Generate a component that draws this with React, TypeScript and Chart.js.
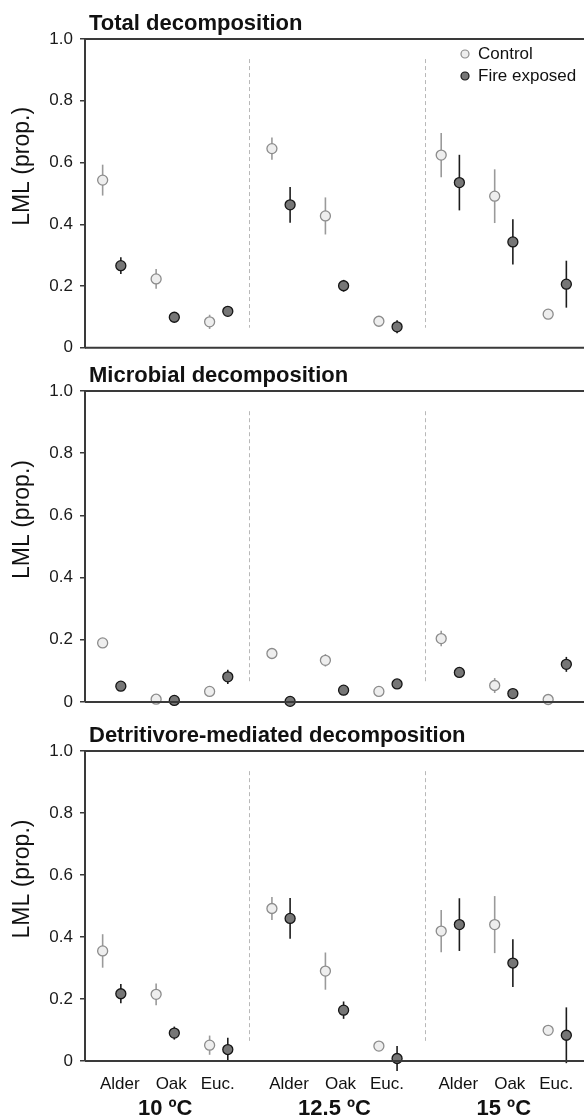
import React, { useEffect, useRef } from "react";
import { Chart, registerables } from "chart.js";

Chart.register(...registerables);

// ---------- data ----------
const temperatures = ["10 ºC", "12.5 ºC", "15 ºC"];
const species = ["Alder", "Oak", "Euc."];
const treatments = ["Control", "Fire exposed"];
const panelTitles = ["Total decomposition", "Microbial decomposition", "Detritivore-mediated decomposition"];
const yTicks = [0, 0.2, 0.4, 0.6, 0.8, 1.0];
const yTickLabels = ["0", "0.2", "0.4", "0.6", "0.8", "1.0"];

// order: Alder10, Oak10, Euc10, Alder12.5, Oak12.5, Euc12.5, Alder15, Oak15, Euc15
const totalControl = [0.543, 0.223, 0.084, 0.645, 0.427, 0.086, 0.624, 0.491, 0.109];
const totalControlErr = [0.05, 0.032, 0.023, 0.036, 0.06, 0.01, 0.072, 0.087, 0.008];
const totalFire = [0.266, 0.099, 0.118, 0.463, 0.201, 0.068, 0.535, 0.343, 0.206];
const totalFireErr = [0.027, 0.01, 0.015, 0.058, 0.019, 0.021, 0.09, 0.073, 0.076];

const microbialControl = [0.19, 0.009, 0.034, 0.156, 0.134, 0.034, 0.204, 0.053, 0.008];
const microbialControlErr = [0.01, 0.005, 0.005, 0.008, 0.02, 0.006, 0.025, 0.024, 0.004];
const microbialFire = [0.051, 0.005, 0.081, 0.002, 0.038, 0.058, 0.095, 0.027, 0.121];
const microbialFireErr = [0.006, 0.003, 0.023, 0.003, 0.005, 0.01, 0.008, 0.005, 0.024];

const detritivoreControl = [0.355, 0.215, 0.051, 0.492, 0.29, 0.048, 0.419, 0.44, 0.099];
const detritivoreControlErr = [0.054, 0.035, 0.031, 0.037, 0.06, 0.01, 0.068, 0.092, 0.01];
const detritivoreFire = [0.217, 0.09, 0.037, 0.46, 0.164, 0.008, 0.44, 0.316, 0.083];
const detritivoreFireErr = [0.031, 0.021, 0.038, 0.066, 0.028, 0.04, 0.085, 0.077, 0.09];

const panelSeries = [
  [totalControl, totalControlErr, totalFire, totalFireErr],
  [microbialControl, microbialControlErr, microbialFire, microbialFireErr],
  [detritivoreControl, detritivoreControlErr, detritivoreFire, detritivoreFireErr],
];

// ---------- layout / style ----------
const FONT = '"Liberation Sans", Arial, Helvetica, sans-serif';
const W = 584;
const PANEL_TOPS = [0, 365, 720];
const PANEL_HEIGHTS = [365, 355, 397];
const PAD_TOP = [39, 26, 31];
const PAD_BOTTOM = [15, 18, 56];
const GROUP_STRIDE = 3.165;
const DODGE = 0.17;
const SEPARATORS = [2.567, 5.857];
const X_MIN = -0.5;
const X_MAX = 8.83;
const LABEL_SHIFT_PX = [8, 6, -1];
const POINT_R = 5;

const STYLE = [
  { fill: "#eeeeee", border: "#8c8c8c", bar: "#9a9a9a" },
  { fill: "#767676", border: "#151515", bar: "#1c1c1c" },
];

const xPos = (i: number, t: number) =>
  Math.floor(i / 3) * GROUP_STRIDE + (i % 3) + (t === 0 ? -DODGE : DODGE);

const decorPlugin = {
  id: "panelDecor",
  beforeDatasetsDraw(chart: any) {
    const { ctx, scales } = chart;
    const x = scales.x;
    const y = scales.y;
    ctx.save();
    ctx.strokeStyle = "#b8b8b8";
    ctx.lineWidth = 1;
    ctx.setLineDash([4, 3]);
    for (const s of SEPARATORS) {
      const px = Math.round(x.getPixelForValue(s)) + 0.5;
      ctx.beginPath();
      ctx.moveTo(px, y.getPixelForValue(0.935));
      ctx.lineTo(px, y.getPixelForValue(0.065));
      ctx.stroke();
    }
    ctx.setLineDash([]);
    chart.data.datasets.forEach((ds: any, di: number) => {
      ctx.strokeStyle = STYLE[di].bar;
      ctx.lineWidth = 1.6;
      ds.data.forEach((p: any) => {
        if (!p.err) return;
        const px = x.getPixelForValue(p.x);
        ctx.beginPath();
        ctx.moveTo(px, y.getPixelForValue(p.y + p.err));
        ctx.lineTo(px, y.getPixelForValue(p.y - p.err));
        ctx.stroke();
      });
    });
    ctx.restore();
  },
  afterDraw(chart: any) {
    const opts = chart.options.plugins.panelDecor;
    const { ctx, chartArea, scales } = chart;
    const x = scales.x;
    ctx.save();
    ctx.strokeStyle = "#3a3a3a";
    ctx.lineWidth = 2;
    ctx.beginPath();
    ctx.moveTo(chartArea.left, chartArea.top);
    ctx.lineTo(chartArea.right, chartArea.top);
    ctx.moveTo(chartArea.left, chartArea.bottom);
    ctx.lineTo(chartArea.right, chartArea.bottom);
    ctx.stroke();
    ctx.fillStyle = "#111";
    ctx.font = `bold 22px ${FONT}`;
    ctx.textAlign = "left";
    ctx.textBaseline = "alphabetic";
    ctx.fillText(opts.title, 89, chartArea.top - 9);
    ctx.save();
    ctx.translate(23, (chartArea.top + chartArea.bottom) / 2 - 27);
    ctx.rotate(-Math.PI / 2);
    ctx.font = `23px ${FONT}`;
    ctx.textAlign = "center";
    ctx.textBaseline = "middle";
    ctx.fillStyle = "#111";
    ctx.fillText("LML (prop.)", 0, 0);
    ctx.restore();
    if (opts.legend) {
      treatments.forEach((name, t) => {
        const cy = chartArea.top + 15 + t * 22;
        const cx = chartArea.right - 119;
        ctx.beginPath();
        ctx.arc(cx, cy, 4, 0, Math.PI * 2);
        ctx.fillStyle = STYLE[t].fill;
        ctx.fill();
        ctx.lineWidth = 1.2;
        ctx.strokeStyle = STYLE[t].border;
        ctx.stroke();
        ctx.fillStyle = "#111";
        ctx.font = `17px ${FONT}`;
        ctx.textAlign = "left";
        ctx.textBaseline = "middle";
        ctx.fillText(name, cx + 13, cy);
      });
    }
    if (opts.xLabels) {
      ctx.fillStyle = "#111";
      ctx.textAlign = "center";
      ctx.textBaseline = "alphabetic";
      temperatures.forEach((temp, g) => {
        species.forEach((sp, s) => {
          const px = x.getPixelForValue(g * GROUP_STRIDE + s) + LABEL_SHIFT_PX[s];
          ctx.font = `17px ${FONT}`;
          ctx.fillText(sp, px, chartArea.bottom + 28);
        });
        ctx.font = `bold 22px ${FONT}`;
        ctx.fillText(temp, x.getPixelForValue(g * GROUP_STRIDE + 1), chartArea.bottom + 54);
      });
    }
    ctx.restore();
  },
};

function Panel({ index }: { index: number }) {
  const ref = useRef<HTMLCanvasElement | null>(null);
  useEffect(() => {
    if (!ref.current) return;
    const [ctrl, ctrlErr, fire, fireErr] = panelSeries[index];
    const vals = [ctrl, fire];
    const errs = [ctrlErr, fireErr];
    const datasets = treatments.map((name, t) => ({
      label: name,
      data: vals[t].map((v, i) => ({ x: xPos(i, t), y: v, err: errs[t][i] })),
      pointRadius: POINT_R,
      pointHoverRadius: POINT_R,
      pointBackgroundColor: STYLE[t].fill,
      pointBorderColor: STYLE[t].border,
      pointBorderWidth: 1.3,
      showLine: false,
      clip: false as any,
    }));
    const chart = new Chart(ref.current, {
      type: "scatter",
      data: { datasets },
      plugins: [decorPlugin as any],
      options: {
        animation: false,
        responsive: false,
        events: [],
        layout: { autoPadding: false, padding: { top: PAD_TOP[index], bottom: PAD_BOTTOM[index], left: 0, right: 0 } } as any,
        plugins: {
          legend: { display: false },
          tooltip: { enabled: false },
          panelDecor: { title: panelTitles[index], legend: index === 0, xLabels: index === 2 },
        } as any,
        scales: {
          x: { type: "linear", min: X_MIN, max: X_MAX, display: false },
          y: {
            type: "linear",
            min: 0,
            max: 1,
            afterFit: (scale: any) => {
              scale.width = 85;
            },
            afterBuildTicks: (scale: any) => {
              scale.ticks = yTicks.map((v) => ({ value: v }));
            },
            ticks: {
              padding: 7,
              color: "#1a1a1a",
              font: { family: FONT, size: 17 },
              callback: (v: any) => {
                const k = yTicks.findIndex((t) => Math.abs(t - Number(v)) < 1e-6);
                return k >= 0 ? yTickLabels[k] : "";
              },
            },
            grid: { display: true, drawOnChartArea: false, drawTicks: true, tickLength: 5, color: "#3a3a3a", lineWidth: 1.5 },
            border: { display: true, color: "#3a3a3a", width: 2 },
          },
        },
      },
    });
    return () => chart.destroy();
  }, [index]);
  return (
    <canvas
      ref={ref}
      width={W}
      height={PANEL_HEIGHTS[index]}
      style={{ position: "absolute", left: 0, top: PANEL_TOPS[index], width: W, height: PANEL_HEIGHTS[index], display: "block" }}
    />
  );
}

export default function App() {
  return (
    <div style={{ position: "absolute", left: 0, top: 0, width: W, height: 1117, background: "#fff", overflow: "hidden" }}>
      <Panel index={0} />
      <Panel index={1} />
      <Panel index={2} />
    </div>
  );
}
